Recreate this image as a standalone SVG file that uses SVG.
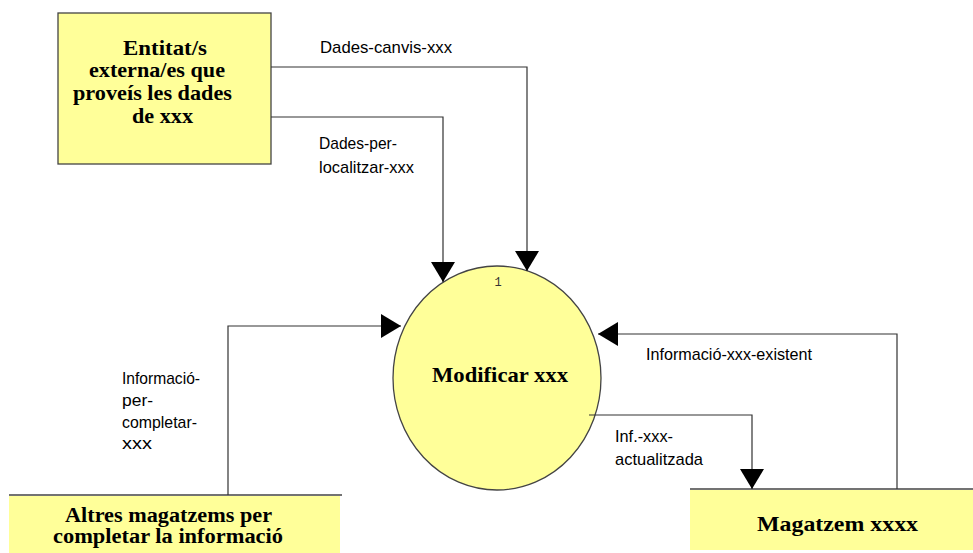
<svg xmlns="http://www.w3.org/2000/svg" width="973" height="553" viewBox="0 0 973 553">
  <style>
    .fill { fill: #ffff99; }
    .box { fill: #ffff99; stroke: #444444; stroke-width: 1.3; }
    .flow { fill: none; stroke: #333333; stroke-width: 1.2; marker-end: url(#head); }
    .edge { stroke: #444444; stroke-width: 1.3; }
    .title { font-family: "Liberation Serif", "Times New Roman", serif; font-weight: bold; fill: #000000; text-anchor: middle; }
    .label { font-family: "Liberation Sans", Arial, sans-serif; font-size: 17px; fill: #000000; }
    .num { font-family: "Liberation Mono", "Courier New", monospace; font-size: 12px; fill: #333333; text-anchor: middle; }
  </style>
  <defs>
    <marker id="head" markerUnits="userSpaceOnUse" markerWidth="22" markerHeight="24" refX="20" refY="12" orient="auto">
      <path d="M0,0 L20,12 L0,24 z" fill="#000000"/>
    </marker>
  </defs>
  <rect width="973" height="553" fill="#ffffff"/>

  <!-- External entity -->
  <g id="entitat-externa">
    <rect class="box" x="58" y="13" width="213" height="151"/>
    <text class="title" font-size="21" x="165" y="55" textLength="84" lengthAdjust="spacingAndGlyphs">Entitat/s</text>
    <text class="title" font-size="21" x="157" y="77" textLength="136" lengthAdjust="spacingAndGlyphs">externa/es que</text>
    <text class="title" font-size="21" x="152.5" y="100" textLength="159" lengthAdjust="spacingAndGlyphs">proveís les dades</text>
    <text class="title" font-size="21" x="162.5" y="123" textLength="61" lengthAdjust="spacingAndGlyphs">de xxx</text>
  </g>

  <!-- Process 1 -->
  <g id="proces-1">
    <ellipse class="box" cx="497" cy="378" rx="104" ry="112"/>
    <text class="num" x="498" y="286">1</text>
    <text class="title" font-size="22" x="500" y="382" textLength="136" lengthAdjust="spacingAndGlyphs">Modificar xxx</text>
  </g>

  <!-- Data store: other stores -->
  <g id="altres-magatzems">
    <rect class="fill" x="9" y="496" width="331" height="57"/>
    <line class="edge" x1="9" y1="495" x2="342" y2="495"/>
    <text class="title" font-size="20" x="168.5" y="522" textLength="207" lengthAdjust="spacingAndGlyphs">Altres magatzems per</text>
    <text class="title" font-size="20" x="168" y="543" textLength="230" lengthAdjust="spacingAndGlyphs">completar la informació</text>
  </g>

  <!-- Data store: xxxx -->
  <g id="magatzem-xxxx">
    <rect class="fill" x="690" y="490" width="283" height="60"/>
    <line class="edge" x1="690" y1="489" x2="973" y2="489"/>
    <text class="title" font-size="22" x="837.5" y="531" textLength="161" lengthAdjust="spacingAndGlyphs">Magatzem xxxx</text>
  </g>

  <!-- Data flows -->
  <g id="fluxos">
    <polyline class="flow" points="271,67 527,67 527,271"/>
    <polyline class="flow" points="271,117 443,117 443,282"/>
    <polyline class="flow" points="228,495 228,326 401,326"/>
    <polyline class="flow" points="897,489 897,334 598,334"/>
    <polyline class="flow" points="589,415 752,415 752,489"/>

    <text class="label" x="320" y="53" textLength="132" lengthAdjust="spacingAndGlyphs">Dades-canvis-xxx</text>
    <text class="label" x="319" y="149" textLength="78" lengthAdjust="spacingAndGlyphs">Dades-per-</text>
    <text class="label" x="319" y="173" textLength="95" lengthAdjust="spacingAndGlyphs">localitzar-xxx</text>
    <text class="label" x="646" y="360" textLength="166" lengthAdjust="spacingAndGlyphs">Informació-xxx-existent</text>
    <text class="label" x="615" y="442" textLength="58" lengthAdjust="spacingAndGlyphs">Inf.-xxx-</text>
    <text class="label" x="615" y="465" textLength="88" lengthAdjust="spacingAndGlyphs">actualitzada</text>
    <text class="label" x="122" y="384" textLength="78" lengthAdjust="spacingAndGlyphs">Informació-</text>
    <text class="label" x="122" y="406" textLength="31" lengthAdjust="spacingAndGlyphs">per-</text>
    <text class="label" x="122" y="428" textLength="75" lengthAdjust="spacingAndGlyphs">completar-</text>
    <text class="label" x="122" y="449" textLength="30" lengthAdjust="spacingAndGlyphs">xxx</text>
  </g>
</svg>
